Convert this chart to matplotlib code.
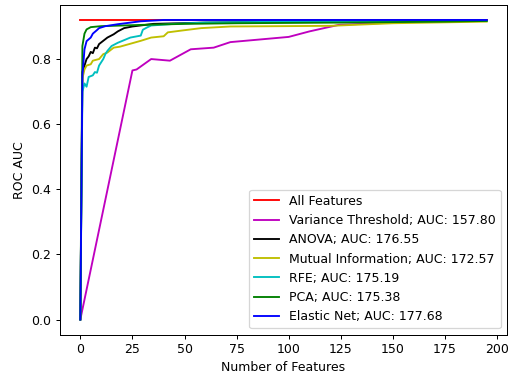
import matplotlib
matplotlib.use("Agg")
import matplotlib.pyplot as plt

all_x = [0, 195]
all_y = [0.92, 0.92]

var_x = [0, 25, 27, 34, 43, 53, 64, 72, 100, 110, 124, 150, 175, 195]
var_y = [0.0, 0.765, 0.768, 0.800, 0.795, 0.830, 0.835, 0.852, 0.868, 0.885, 0.905, 0.912, 0.920, 0.919]

anova_x = [0, 1, 2, 3, 4, 5, 6, 7, 8, 9, 11, 13, 16, 18, 21, 25, 35, 60, 100, 195]
anova_y = [0.0, 0.76, 0.78, 0.80, 0.808, 0.822, 0.818, 0.835, 0.833, 0.846, 0.856, 0.866, 0.876, 0.885, 0.895, 0.900, 0.908, 0.912, 0.915, 0.918]

mi_x = [0, 1, 2, 3, 5, 6, 9, 11, 13, 16, 19, 24, 29, 34, 40, 42, 48, 58, 72, 120, 150, 195]
mi_y = [0.0, 0.74, 0.768, 0.780, 0.784, 0.795, 0.800, 0.815, 0.820, 0.835, 0.838, 0.847, 0.856, 0.866, 0.870, 0.882, 0.887, 0.895, 0.900, 0.902, 0.910, 0.915]

rfe_x = [0, 1, 2, 3, 4, 6, 7, 8, 9, 10, 11, 12, 13, 15, 18, 24, 29, 30, 32, 34, 45, 60, 100, 195]
rfe_y = [0.0, 0.70, 0.725, 0.715, 0.745, 0.750, 0.760, 0.758, 0.780, 0.790, 0.800, 0.815, 0.825, 0.840, 0.850, 0.866, 0.872, 0.890, 0.897, 0.903, 0.908, 0.912, 0.915, 0.917]

pca_x = [0, 1, 2, 3, 5, 10, 30, 50, 75, 125, 175, 195]
pca_y = [0.0, 0.84, 0.878, 0.891, 0.898, 0.901, 0.905, 0.908, 0.910, 0.912, 0.915, 0.917]

en_x = [0, 1, 2, 3, 5, 6, 8, 9, 12, 18, 29, 40, 195]
en_y = [0.0, 0.75, 0.83, 0.855, 0.866, 0.878, 0.889, 0.895, 0.901, 0.907, 0.916, 0.920, 0.920]

labels = ["All Features",
          "Variance Threshold; AUC: 157.80",
          "ANOVA; AUC: 176.55",
          "Mutual Information; AUC: 172.57",
          "RFE; AUC: 175.19",
          "PCA; AUC: 175.38",
          "Elastic Net; AUC: 177.68"]

DPI = 90
fig = plt.figure(figsize=(518 / DPI, 374 / DPI), dpi=DPI)
ax = fig.add_axes([60/518, 1 - 334.5/374, (507 - 60)/518, (334.5 - 5)/374])

ax.plot(all_x, all_y, color='r', label=labels[0])
ax.plot(var_x, var_y, color='m', label=labels[1])
ax.plot(anova_x, anova_y, color='k', label=labels[2])
ax.plot(mi_x, mi_y, color='y', label=labels[3])
ax.plot(rfe_x, rfe_y, color='c', label=labels[4])
ax.plot(pca_x, pca_y, color='g', label=labels[5])
ax.plot(en_x, en_y, color='b', label=labels[6])

ax.set_xlabel("Number of Features")
ax.set_ylabel("ROC AUC")
ax.set_xticks([0, 25, 50, 75, 100, 125, 150, 175, 200])
ax.legend(loc='lower right')

fig.savefig("out.png", dpi=DPI)
